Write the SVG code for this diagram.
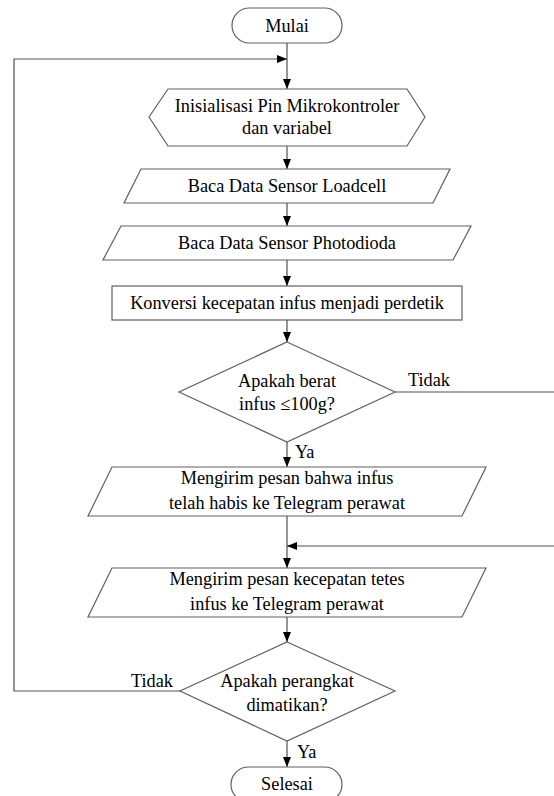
<svg xmlns="http://www.w3.org/2000/svg" width="554" height="796" viewBox="0 0 554 796">
<style>
.s{fill:#fff;stroke:#606060;stroke-width:1.2}
.c{fill:none;stroke:#505050;stroke-width:1.2}
text{font-family:'Liberation Serif','Times New Roman',Times,serif;font-size:18.3px;fill:#000}
.t{text-anchor:middle}
</style>
<defs>
<marker id="a" viewBox="0 0 10 8" refX="10" refY="4" markerWidth="10" markerHeight="8" markerUnits="userSpaceOnUse" orient="auto">
<path d="M0,0 L10,4 L0,8 Z" fill="#000"/>
</marker>
</defs>
<rect width="554" height="796" fill="#fff"/>
<g id="connectors">
<line class="c" x1="287" y1="43" x2="287" y2="89" marker-end="url(#a)"/>
<polyline class="c" points="180,691 14,691 14,59 287,59" marker-end="url(#a)"/>
<line class="c" x1="287" y1="146" x2="287" y2="169" marker-end="url(#a)"/>
<line class="c" x1="287" y1="203" x2="287" y2="226" marker-end="url(#a)"/>
<line class="c" x1="287" y1="260" x2="287" y2="286" marker-end="url(#a)"/>
<line class="c" x1="287" y1="320" x2="287" y2="342" marker-end="url(#a)"/>
<line class="c" x1="395" y1="392" x2="556" y2="392"/>
<line class="c" x1="287" y1="442" x2="287" y2="467" marker-end="url(#a)"/>
<line class="c" x1="287" y1="516" x2="287" y2="568" marker-end="url(#a)"/>
<line class="c" x1="556" y1="546" x2="287" y2="546" marker-end="url(#a)"/>
<line class="c" x1="287" y1="617" x2="287" y2="642" marker-end="url(#a)"/>
<line class="c" x1="287" y1="741" x2="287" y2="767" marker-end="url(#a)"/>
<text x="408" y="386">Tidak</text>
<text x="295" y="458">Ya</text>
<text x="131" y="687">Tidak</text>
<text x="297" y="758">Ya</text>
</g>
<g id="mulai">
<rect class="s" x="232" y="8" width="110" height="35" rx="17.5"/>
<text class="t" x="287" y="32">Mulai</text>
</g>
<g id="inisialisasi">
<polygon class="s" points="149,117 168,89 407,89 425,117 407,146 168,146"/>
<text class="t" x="287" y="112">Inisialisasi Pin Mikrokontroler</text>
<text class="t" x="287" y="134">dan variabel</text>
</g>
<g id="loadcell">
<polygon class="s" points="141,169 450,169 433,203 124,203"/>
<text class="t" x="287" y="192">Baca Data Sensor Loadcell</text>
</g>
<g id="photodioda">
<polygon class="s" points="121,226 471,226 453,260 103,260"/>
<text class="t" x="287" y="249">Baca Data Sensor Photodioda</text>
</g>
<g id="konversi">
<rect class="s" x="112" y="286" width="350" height="34"/>
<text class="t" x="287" y="309">Konversi kecepatan infus menjadi perdetik</text>
</g>
<g id="cek-berat">
<polygon class="s" points="287,342 395,392 287,442 179,392"/>
<text class="t" x="287" y="387">Apakah berat</text>
<text class="t" x="287" y="410">infus ≤100g?</text>
</g>
<g id="pesan-habis">
<polygon class="s" points="112,467 486,467 462,516 88,516"/>
<text class="t" x="287" y="484">Mengirim pesan bahwa infus</text>
<text class="t" x="287" y="509">telah habis ke Telegram perawat</text>
</g>
<g id="pesan-kecepatan">
<polygon class="s" points="112,568 486,568 462,617 88,617"/>
<text class="t" x="287" y="585">Mengirim pesan kecepatan tetes</text>
<text class="t" x="287" y="610">infus ke Telegram perawat</text>
</g>
<g id="cek-mati">
<polygon class="s" points="287,642 395,691 287,741 180,691"/>
<text class="t" x="287" y="687">Apakah perangkat</text>
<text class="t" x="287" y="711">dimatikan?</text>
</g>
<g id="selesai">
<rect class="s" x="231" y="767" width="111" height="35" rx="17.5"/>
<text class="t" x="287" y="790">Selesai</text>
</g>
</svg>
